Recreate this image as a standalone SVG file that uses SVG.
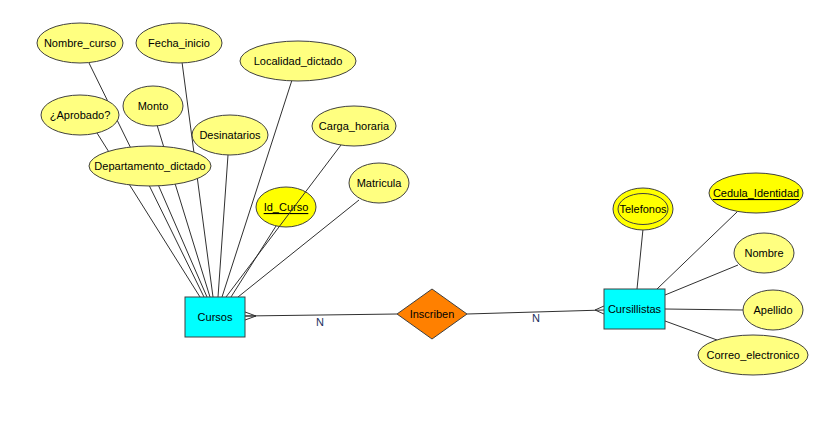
<svg xmlns="http://www.w3.org/2000/svg" width="832" height="424" viewBox="0 0 832 424">
<style>
.attr{fill:#ffff80;stroke:#404040;stroke-width:1}
.key{fill:#ffff00;stroke:#404040;stroke-width:1}
.ent{fill:#00ffff;stroke:#404040;stroke-width:1}
.rel{fill:#ff8000;stroke:#404040;stroke-width:1}
.ln{stroke:#303030;stroke-width:1;fill:none}
text{font-family:"Liberation Sans",Arial,sans-serif;font-size:11px;fill:#000;text-anchor:middle;dominant-baseline:central}
.u{text-decoration:underline}
.card{fill:#1a3060}
</style>
<rect width="832" height="424" fill="#fff"/>
<g id="attr-id_curso"><ellipse class="key" cx="286" cy="207" rx="30" ry="20"/><text class="u" x="286" y="207">Id_Curso</text></g>
<g id="connectors">
<line class="ln" x1="97" y1="133" x2="200" y2="297"/>
<line class="ln" x1="89" y1="63" x2="204" y2="297"/>
<line class="ln" x1="150" y1="166" x2="207" y2="297"/>
<line class="ln" x1="157" y1="125" x2="210" y2="297"/>
<line class="ln" x1="182" y1="62" x2="213" y2="297"/>
<line class="ln" x1="228" y1="155" x2="218" y2="297"/>
<line class="ln" x1="292" y1="80" x2="222" y2="297"/>
<line class="ln" x1="341" y1="145" x2="226" y2="297"/>
<line class="ln" x1="276" y1="226" x2="231" y2="297"/>
<line class="ln" x1="359" y1="200" x2="238" y2="297"/>
<line class="ln" x1="245" y1="316" x2="397" y2="314"/>
<polyline class="ln" points="245,312 256,316 245,320"/>
<line class="ln" x1="245" y1="316" x2="256" y2="316"/>
<line class="ln" x1="467" y1="314" x2="604" y2="310"/>
<polyline class="ln" points="604,306 595,310 604,314"/>
<line class="ln" x1="643" y1="229" x2="637" y2="289"/>
<line class="ln" x1="737" y1="212" x2="657" y2="289"/>
<line class="ln" x1="738" y1="265" x2="665" y2="295"/>
<line class="ln" x1="665" y1="309" x2="743" y2="310"/>
<line class="ln" x1="665" y1="321" x2="717" y2="340"/>
<text class="card" x="320" y="322">N</text>
<text class="card" x="536" y="318">N</text>
</g>
<g id="attr-nombre_curso"><ellipse class="attr" cx="80" cy="43" rx="43" ry="20"/><text x="80" y="43">Nombre_curso</text></g>
<g id="attr-fecha_inicio"><ellipse class="attr" cx="179" cy="43" rx="43" ry="20"/><text x="179" y="43">Fecha_inicio</text></g>
<g id="attr-aprobado"><ellipse class="attr" cx="80" cy="115" rx="39" ry="20"/><text x="80" y="115">¿Aprobado?</text></g>
<g id="attr-monto"><ellipse class="attr" cx="153" cy="106" rx="30" ry="20"/><text x="153" y="106">Monto</text></g>
<g id="attr-departamento_dictado"><ellipse class="attr" cx="150" cy="166" rx="61" ry="20"/><text x="150" y="166">Departamento_dictado</text></g>
<g id="attr-desinatarios"><ellipse class="attr" cx="230" cy="135" rx="38" ry="20"/><text x="230" y="135">Desinatarios</text></g>
<g id="attr-localidad_dictado"><ellipse class="attr" cx="298" cy="61" rx="58" ry="20"/><text x="298" y="61">Localidad_dictado</text></g>
<g id="attr-carga_horaria"><ellipse class="attr" cx="354" cy="126" rx="42" ry="20"/><text x="354" y="126">Carga_horaria</text></g>
<g id="attr-matricula"><ellipse class="attr" cx="379" cy="183" rx="30" ry="20"/><text x="379" y="183">Matricula</text></g>
<g id="ent-cursos"><rect class="ent" x="185" y="297" width="60" height="40"/><text x="215" y="317">Cursos</text></g>
<g id="rel-inscriben"><polygon class="rel" points="397,314 432,289 467,314 432,339"/><text x="432" y="314">Inscriben</text></g>
<g id="ent-cursillistas"><rect class="ent" x="604" y="289" width="61" height="40"/><text x="634.5" y="309">Cursillistas</text></g>
<g id="attr-telefonos"><ellipse class="key" cx="643" cy="209" rx="30" ry="21"/><ellipse class="key" cx="643" cy="209" rx="25" ry="15.5"/><text x="643" y="209">Telefonos</text></g>
<g id="attr-cedula_identidad"><ellipse class="key" cx="756" cy="193" rx="47" ry="20"/><text class="u" x="756" y="193">Cedula_Identidad</text></g>
<g id="attr-nombre"><ellipse class="attr" cx="764" cy="253" rx="30" ry="20"/><text x="764" y="253">Nombre</text></g>
<g id="attr-apellido"><ellipse class="attr" cx="773" cy="310" rx="30" ry="20"/><text x="773" y="310">Apellido</text></g>
<g id="attr-correo_electronico"><ellipse class="attr" cx="753" cy="355" rx="55" ry="20"/><text x="753" y="355">Correo_electronico</text></g>
</svg>
